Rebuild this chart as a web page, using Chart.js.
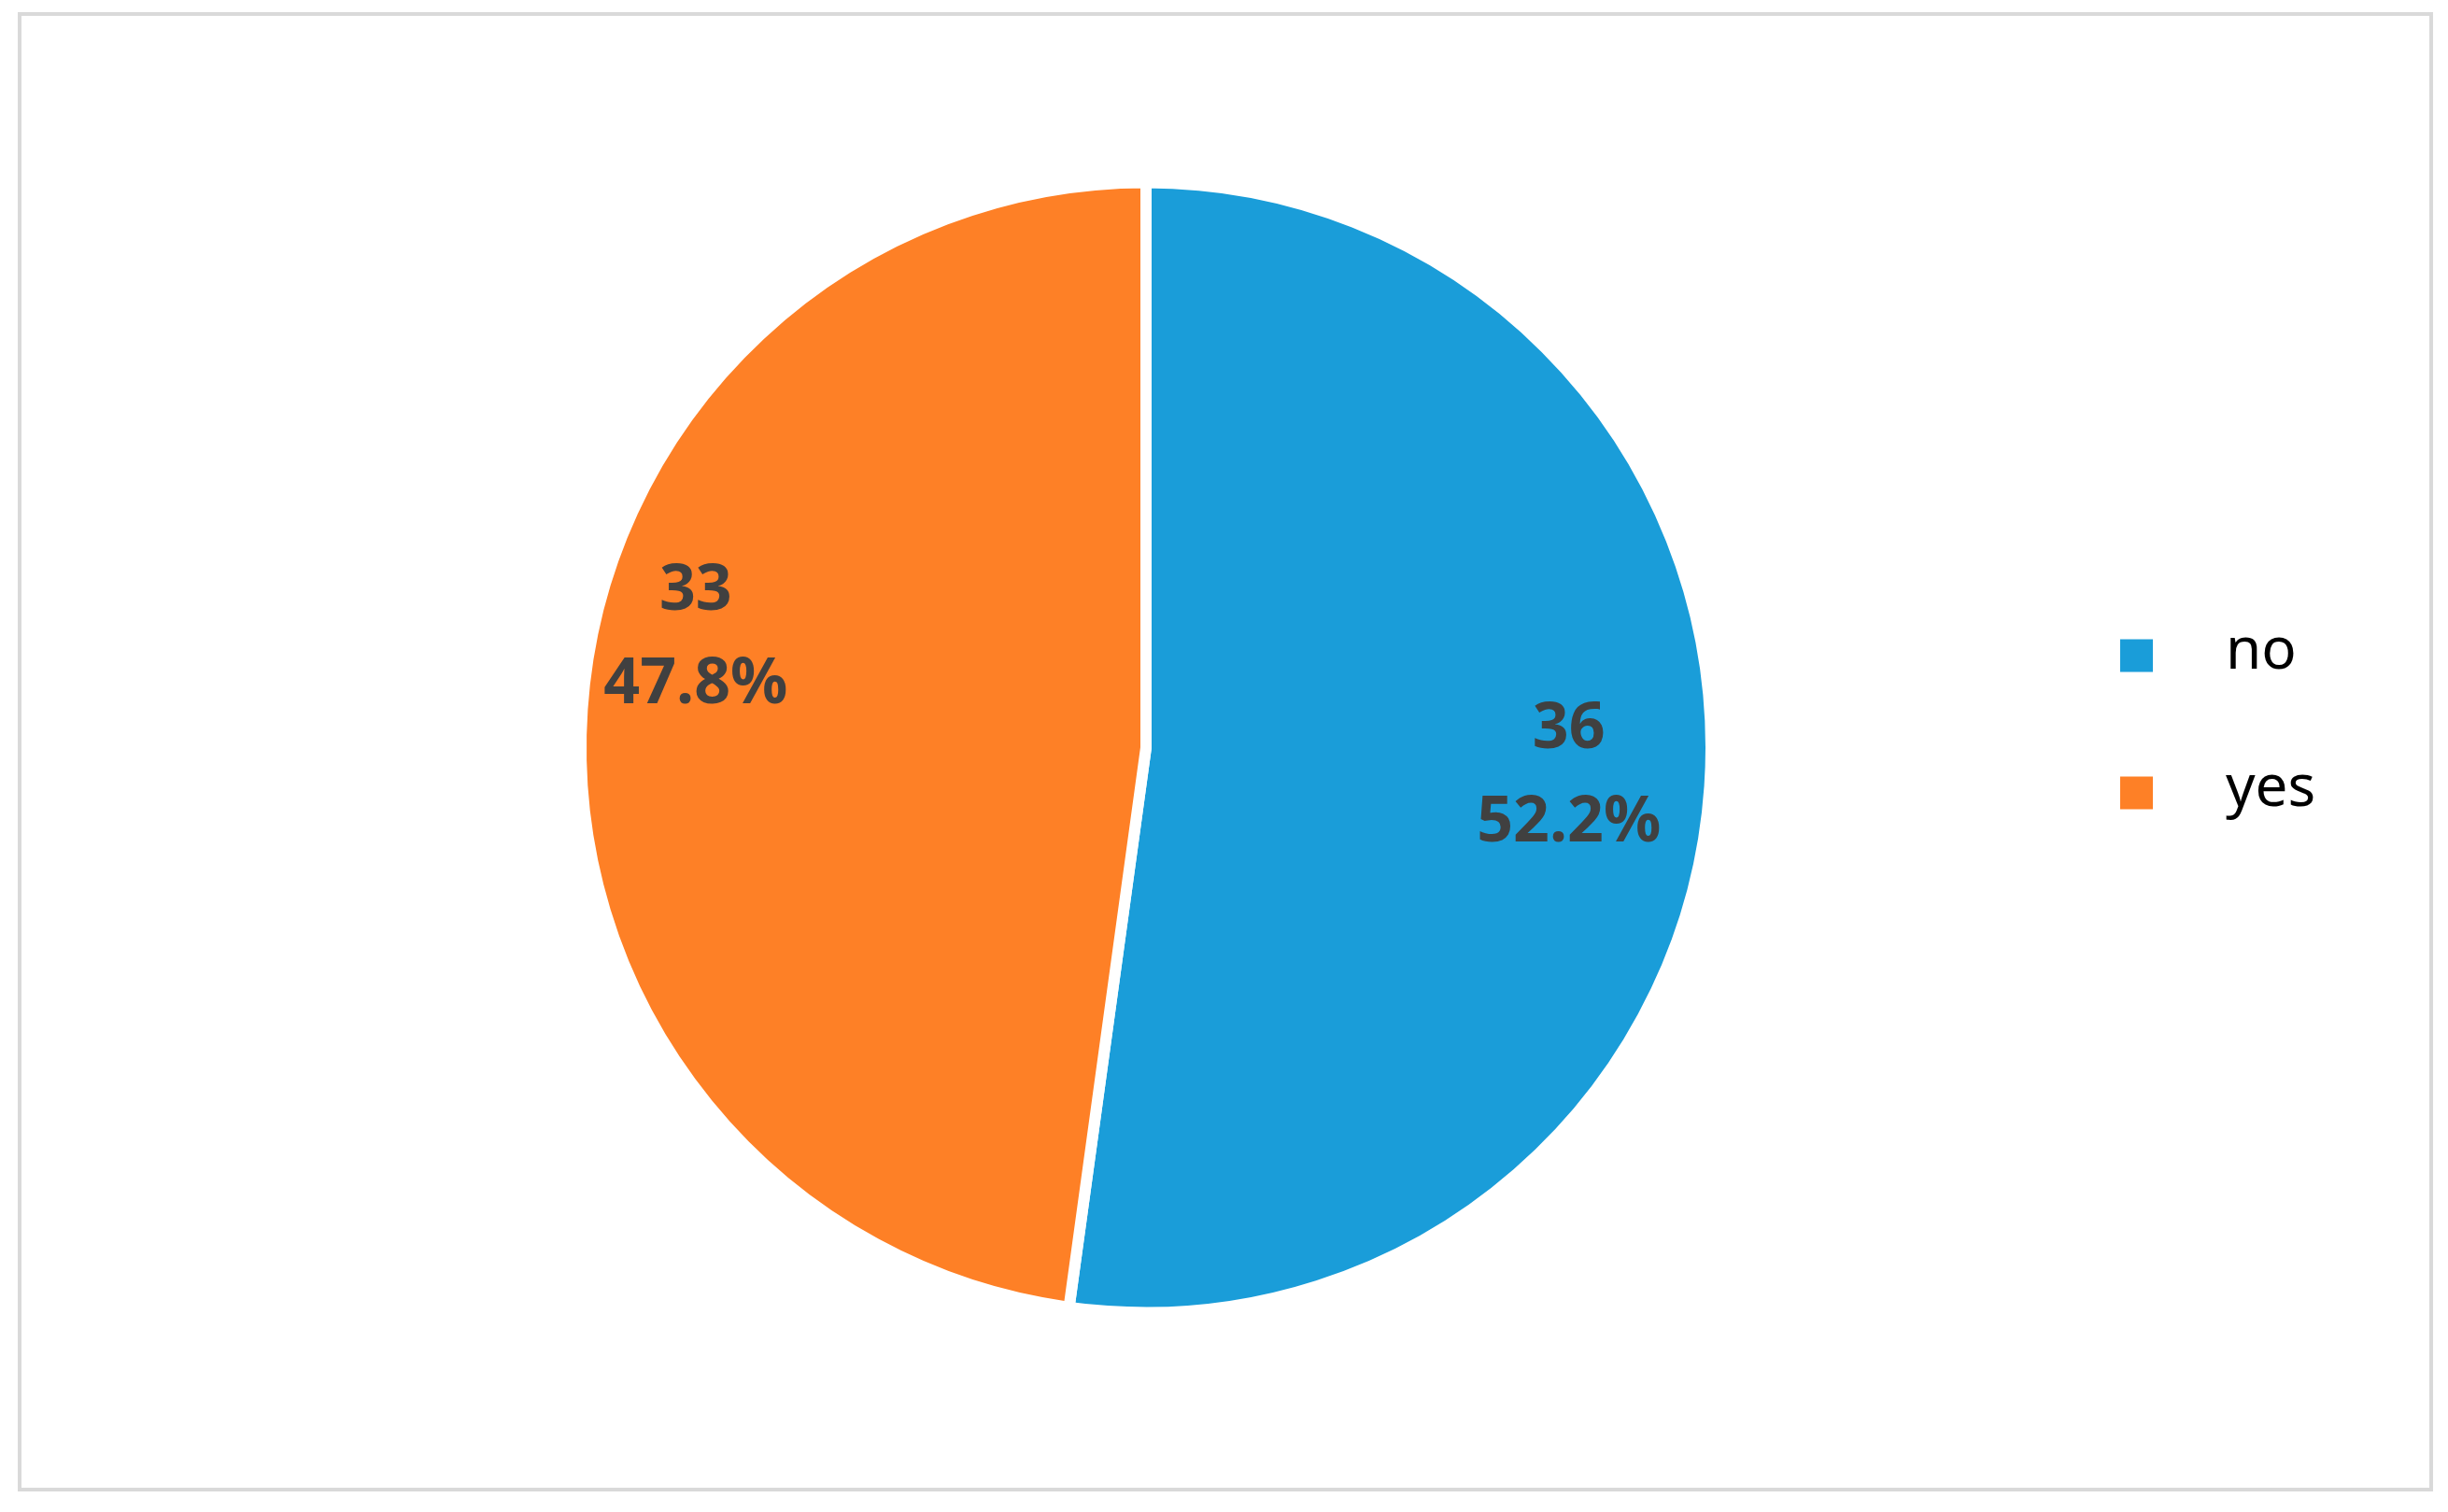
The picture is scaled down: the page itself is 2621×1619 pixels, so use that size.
<!DOCTYPE html>
<html>
<head>
<meta charset="utf-8">
<script src="https://cdn.jsdelivr.net/npm/chart.js@4.4.1/dist/chart.umd.min.js"></script>
<style>
  html, body { margin: 0; padding: 0; background: #fff; }
  #frame {
    position: absolute; left: 19px; top: 13px;
    width: 2586px; height: 1584px;
    box-sizing: border-box;
    border: 4px solid #d9d9d9;
  }
  #frame canvas { display: block; }
</style>
</head>
<body>
<div id="frame"><canvas id="pieChart" width="2578" height="1576"></canvas></div>
<script>
// data
const categories = ['no', 'yes'];
const counts = [36, 33];
const sliceColors = ['#1a9dd9', '#fe8026'];

// where each label sits inside its slice (fraction of radius, extra turn in degrees)
const labelRadius = [0.75, 0.82];
const labelTurn = [0, 9.7];

const total = counts.reduce((a, b) => a + b, 0);

const sliceLabels = {
    id: 'sliceLabels',
    afterDatasetsDraw(chart) {
        const ctx = chart.ctx;
        const meta = chart.getDatasetMeta(0);
        ctx.save();
        ctx.font = 'bold 68px "Noto Sans"';
        ctx.fillStyle = '#404040';
        ctx.textAlign = 'center';
        ctx.textBaseline = 'middle';
        meta.data.forEach((arc, i) => {
            const p = arc.getProps(['x', 'y', 'startAngle', 'endAngle', 'outerRadius'], true);
            const mid = (p.startAngle + p.endAngle) / 2 + labelTurn[i] * Math.PI / 180;
            const r = p.outerRadius * labelRadius[i];
            const cx = p.x + Math.cos(mid) * r;
            const cy = p.y + Math.sin(mid) * r;
            const pct = (counts[i] / total * 100).toFixed(1) + '%';
            ctx.fillText(String(counts[i]), cx, cy - 50);
            ctx.fillText(pct, cx, cy + 50);
        });
        ctx.restore();
    }
};

const sideLegend = {
    id: 'sideLegend',
    afterDraw(chart) {
        const ctx = chart.ctx;
        const box = 35;
        const x = 2247;
        const y0 = 685;
        const rowGap = 147;
        ctx.save();
        ctx.font = '62px "Noto Sans"';
        ctx.textBaseline = 'middle';
        categories.forEach((name, i) => {
            const y = y0 + i * rowGap;
            ctx.fillStyle = sliceColors[i];
            ctx.fillRect(x, y - box / 2, box, box);
            ctx.fillStyle = '#000';
            ctx.fillText(name, x + box + 78, y - 4);
        });
        ctx.restore();
    }
};

const ctx = document.getElementById('pieChart').getContext('2d');
new Chart(ctx, {
    type: 'pie',
    data: {
        labels: categories,
        datasets: [{
            data: counts,
            backgroundColor: sliceColors,
            borderColor: '#ffffff',
            borderWidth: 12
        }]
    },
    options: {
        responsive: false,
        animation: false,
        layout: {
            padding: { left: 593, right: 763, top: 172, bottom: 181 }
        },
        plugins: {
            legend: { display: false },
            tooltip: { enabled: false }
        }
    },
    plugins: [sliceLabels, sideLegend]
});
</script>
</body>
</html>
